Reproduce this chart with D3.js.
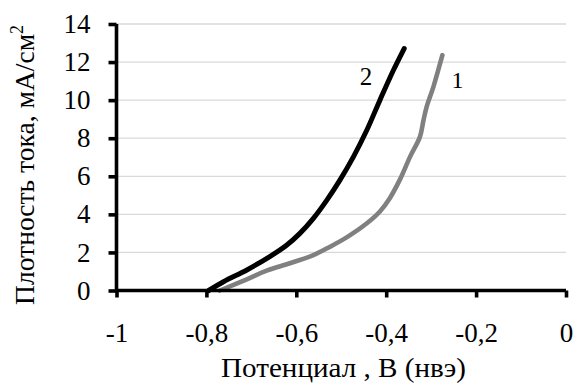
<!DOCTYPE html>
<html>
<head>
<meta charset="utf-8">
<script src="https://cdn.jsdelivr.net/npm/d3@7"></script>
<style>
  html, body { margin: 0; padding: 0; background: #fff; }
  svg { display: block; }
</style>
</head>
<body>
<svg id="chart" width="575" height="385"></svg>
<script>
// Polarization curves: current density vs potential
const potential1 = [-0.77, -0.71, -0.666, -0.614, -0.562, -0.525, -0.488, -0.443, -0.414, -0.392, -0.369, -0.347, -0.325, -0.317, -0.310, -0.295, -0.275];
const current1   = [0, 0.59, 1.04, 1.43, 1.86, 2.30, 2.79, 3.53, 4.15, 4.85, 5.85, 7.02, 8.07, 8.95, 9.65, 10.70, 12.36];
const potential2 = [-0.795, -0.762, -0.710, -0.659, -0.621, -0.592, -0.562, -0.532, -0.503, -0.473, -0.443, -0.414, -0.384, -0.360];
const current2   = [0, 0.46, 1.08, 1.78, 2.39, 3.0, 3.79, 4.75, 5.80, 7.02, 8.43, 10.0, 11.57, 12.71];
const seriesLabels = ["1", "2"];
const xTicks = [-1, -0.8, -0.6, -0.4, -0.2, 0];
const yTicks = [0, 2, 4, 6, 8, 10, 12, 14];
const xTitle = "Потенциал , В (нвэ)";
const yTitle = "Плотность тока, мА/см";

const FONT = "'Liberation Serif', 'Times New Roman', serif";
const svg = d3.select("#chart").style("font-family", FONT);
const x = d3.scaleLinear().domain([-1, 0]).range([116.5, 566]);
const y = d3.scaleLinear().domain([0, 14]).range([290.5, 24]);

const fmt = v => v === 0 ? "0" : String(v).replace(".", ",");

// horizontal gridlines
svg.append("g").selectAll("line").data(yTicks.filter(t => t > 0)).join("line")
  .attr("x1", x(-1)).attr("x2", x(0))
  .attr("y1", d => y(d)).attr("y2", d => y(d))
  .attr("stroke", "#d9d9d9").attr("stroke-width", 1.3);

// curves
const line = d3.line().x(d => x(d[0])).y(d => y(d[1])).curve(d3.curveCatmullRom);
const data1 = potential1.map((p, i) => [p, current1[i]]);
const data2 = potential2.map((p, i) => [p, current2[i]]);
svg.append("path").datum(data1).attr("d", line)
  .attr("fill", "none").attr("stroke", "#808080").attr("stroke-width", 4.6)
  .attr("stroke-linecap", "round").attr("stroke-linejoin", "round");
svg.append("path").datum(data2).attr("d", line)
  .attr("fill", "none").attr("stroke", "#000").attr("stroke-width", 5)
  .attr("stroke-linecap", "round").attr("stroke-linejoin", "round");

// axes
const xAxis = svg.append("g").attr("transform", `translate(0,${y(0)})`)
  .call(d3.axisBottom(x).tickValues(xTicks).tickFormat(fmt).tickSize(7));
const yAxis = svg.append("g").attr("transform", `translate(${x(-1)},0)`)
  .call(d3.axisLeft(y).tickValues(yTicks).tickFormat(fmt).tickSize(8));
[xAxis, yAxis].forEach(g => {
  g.attr("font-family", null).attr("font-size", null);
  g.select(".domain").attr("stroke", "#000").attr("stroke-width", 3.6);
  g.selectAll(".tick line").attr("stroke", "#000").attr("stroke-width", 3.6);
  g.selectAll(".tick text").attr("fill", "#000")
    .style("font-family", FONT).style("font-size", "27px");
});
xAxis.selectAll(".tick text").attr("y", 51.5).attr("dy", 0);
yAxis.selectAll(".tick text").attr("x", -26);
xAxis.select(".domain").attr("d", `M${x(-1)},0H${x(0)}`);
yAxis.select(".domain").attr("d", `M0,${y(14)}V${y(0)}`);

// series labels
function label(txt, cx, baseline, size) {
  svg.append("text").attr("x", cx).attr("y", baseline)
    .attr("text-anchor", "middle").style("font-size", size + "px").text(txt);
}
label(seriesLabels[1], 366, 85, 25);
label(seriesLabels[0], 457.5, 88, 24);

// x axis title
const xt = svg.append("text").attr("text-anchor", "middle")
  .style("font-size", "27px").text(xTitle);
const xw = xt.node().getComputedTextLength();
xt.attr("transform", `translate(343.5,377) scale(${245 / xw},1)`);

// y axis title (rotated)
const yt = svg.append("text").attr("text-anchor", "middle").style("font-size", "28px");
yt.append("tspan").text(yTitle);
yt.append("tspan").attr("dy", -11).style("font-size", "18px").text("2");
const yw = yt.node().getBBox().width;
yt.attr("transform", `translate(33.5,165) rotate(-90) scale(${280 / yw},1)`);
</script>
</body>
</html>
